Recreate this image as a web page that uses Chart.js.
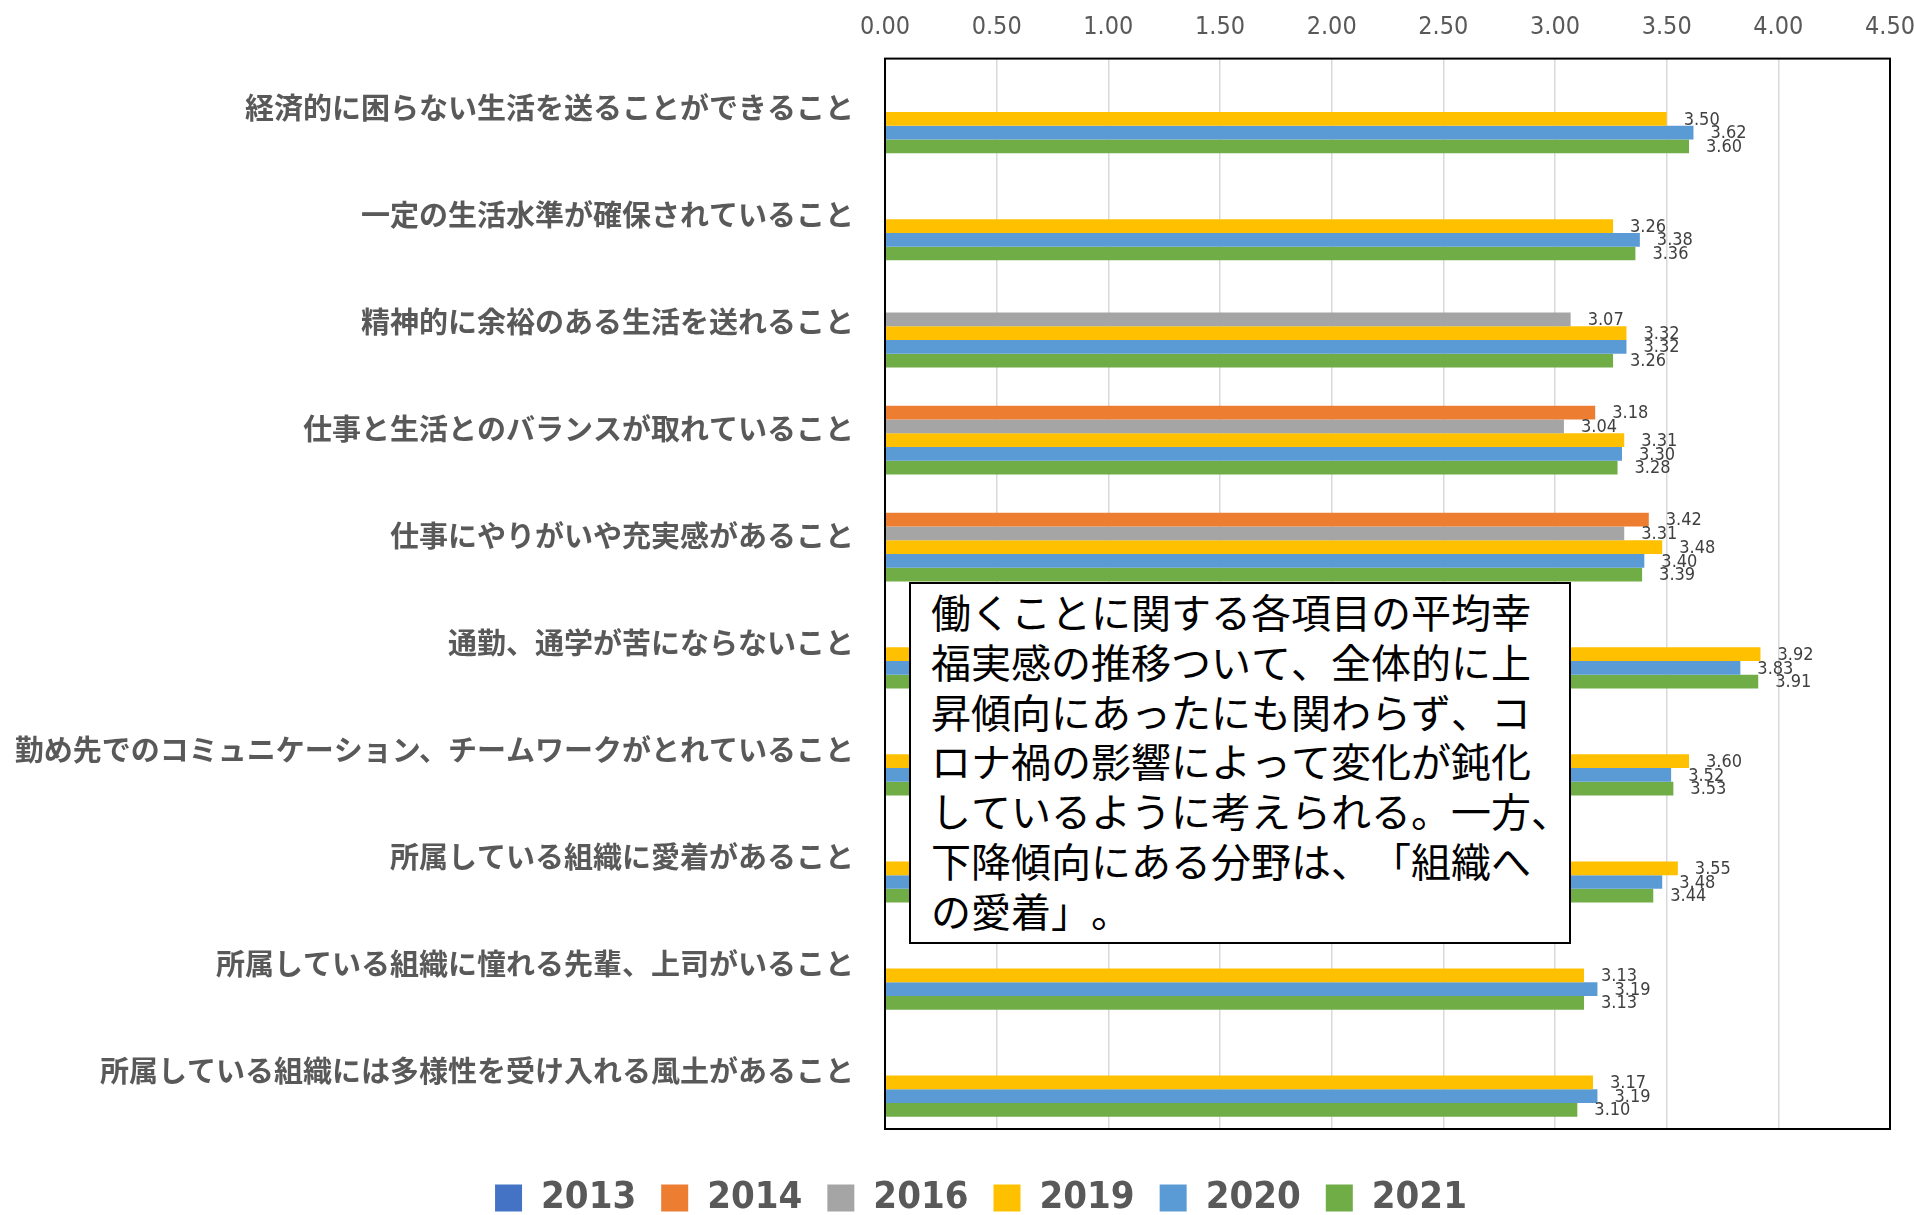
<!DOCTYPE html>
<html>
<head>
<meta charset="utf-8">
<script src="https://cdn.jsdelivr.net/npm/chart.js@4"></script>
<style>
html,body{margin:0;padding:0;background:#fff;}
#wrap{position:relative;width:1914px;height:1215px;}
#note{position:absolute;left:909px;top:582px;width:662px;height:362px;box-sizing:border-box;border:2px solid #000;background:#fff;
font-family:'Noto Sans CJK JP','Noto Sans CJK SC',sans-serif;font-size:40px;line-height:49.8px;color:#000;padding:3px 0 0 20px;white-space:nowrap;
text-spacing-trim:space-all;font-kerning:none;}
</style>
</head>
<body>
<div id="wrap">
<canvas id="c"></canvas>
<div id="note">働くことに関する各項目の平均幸<br>福実感の推移ついて、全体的に上<br>昇傾向にあったにも関わらず、コ<br>ロナ禍の影響によって変化が鈍化<br>しているように考えられる。一方、<br>下降傾向にある分野は、「組織へ<br>の愛着」。</div>
</div>
<script>
const categories = [
  '経済的に困らない生活を送ることができること',
  '一定の生活水準が確保されていること',
  '精神的に余裕のある生活を送れること',
  '仕事と生活とのバランスが取れていること',
  '仕事にやりがいや充実感があること',
  '通勤、通学が苦にならないこと',
  '勤め先でのコミュニケーション、チームワークがとれていること',
  '所属している組織に愛着があること',
  '所属している組織に憧れる先輩、上司がいること',
  '所属している組織には多様性を受け入れる風土があること'
];
const years = ['2013', '2014', '2016', '2019', '2020', '2021'];
const v2013 = [null, null, null, null, null, null, null, null, null, null];
const v2014 = [null, null, null, 3.18, 3.42, null, null, null, null, null];
const v2016 = [null, null, 3.07, 3.04, 3.31, null, null, null, null, null];
const v2019 = [3.50, 3.26, 3.32, 3.31, 3.48, 3.92, 3.60, 3.55, 3.13, 3.17];
const v2020 = [3.62, 3.38, 3.32, 3.30, 3.40, 3.83, 3.52, 3.48, 3.19, 3.19];
const v2021 = [3.60, 3.36, 3.26, 3.28, 3.39, 3.91, 3.53, 3.44, 3.13, 3.10];
const xMin = 0, xMax = 4.5, xStep = 0.5;

const seriesValues = [v2013, v2014, v2016, v2019, v2020, v2021];
const colors = ['#4472C4', '#ED7D31', '#A5A5A5', '#FFC000', '#5B9BD5', '#70AD47'];
const narrow = "'Liberation Sans Narrow','DejaVu Sans Condensed','Roboto Condensed',sans-serif";

const dataLabels = {
  id: 'dataLabels',
  afterLayout(chart) {
    const L = chart.legend;
    if (L) { L.left += 36; L.right += 36; L.top += 25; L.bottom += 25; }
  },
  afterDatasetsDraw(chart) {
    const ctx = chart.ctx;
    ctx.save();
    ctx.font = "18px " + narrow;
    ctx.fillStyle = '#404040';
    ctx.textAlign = 'left';
    ctx.textBaseline = 'middle';
    chart.data.datasets.forEach((ds, i) => {
      const meta = chart.getDatasetMeta(i);
      meta.data.forEach((el, j) => {
        const v = ds.data[j];
        if (v === null || v === undefined) return;
        ctx.fillText(v.toFixed(2), el.x + 17, el.y + 1);
      });
    });
    const a = chart.chartArea;
    ctx.strokeStyle = '#000';
    ctx.lineWidth = 2;
    ctx.strokeRect(a.left, a.top, a.right - a.left, a.bottom - a.top);
    ctx.restore();
  }
};

new Chart(document.getElementById('c'), {
  type: 'bar',
  data: {
    labels: categories,
    datasets: years.map((y, i) => ({
      label: y,
      data: seriesValues[i],
      backgroundColor: colors[i],
      borderWidth: 0,
      categoryPercentage: 0.77,
      barPercentage: 1.0
    }))
  },
  options: {
    indexAxis: 'y',
    responsive: true,
    maintainAspectRatio: false,
    animation: false,
    layout: { padding: { left: 0, right: 24, top: 0, bottom: 13 } },
    scales: {
      x: {
        position: 'top',
        min: xMin, max: xMax,
        ticks: {
          stepSize: xStep,
          callback: v => Number(v).toFixed(2),
          font: { size: 25, family: narrow },
          color: '#595959',
          padding: 16
        },
        grid: { color: '#d9d9d9', lineWidth: 1.5, drawTicks: false },
        border: { display: false },
        afterFit: s => { s.height = 58.6; s.paddingRight = 0; s.paddingLeft = 0; }
      },
      y: {
        grid: { display: false },
        border: { display: false },
        ticks: {
          font: { size: 29, weight: 'bold', family: "'Noto Sans CJK JP','Noto Sans CJK SC',sans-serif" },
          color: '#595959',
          padding: 23,
          labelOffset: -4,
          autoSkip: false
        },
        afterFit: s => { s.width = 885; s.paddingTop = 0; s.paddingBottom = 0; }
      }
    },
    plugins: {
      legend: {
        position: 'bottom',
        labels: {
          boxWidth: 27, boxHeight: 27,
          font: { size: 38, weight: 'bold', family: narrow },
          color: '#595959',
          padding: 25
        }
      },
      tooltip: { enabled: false }
    }
  },
  plugins: [dataLabels]
});
</script>
</body>
</html>
